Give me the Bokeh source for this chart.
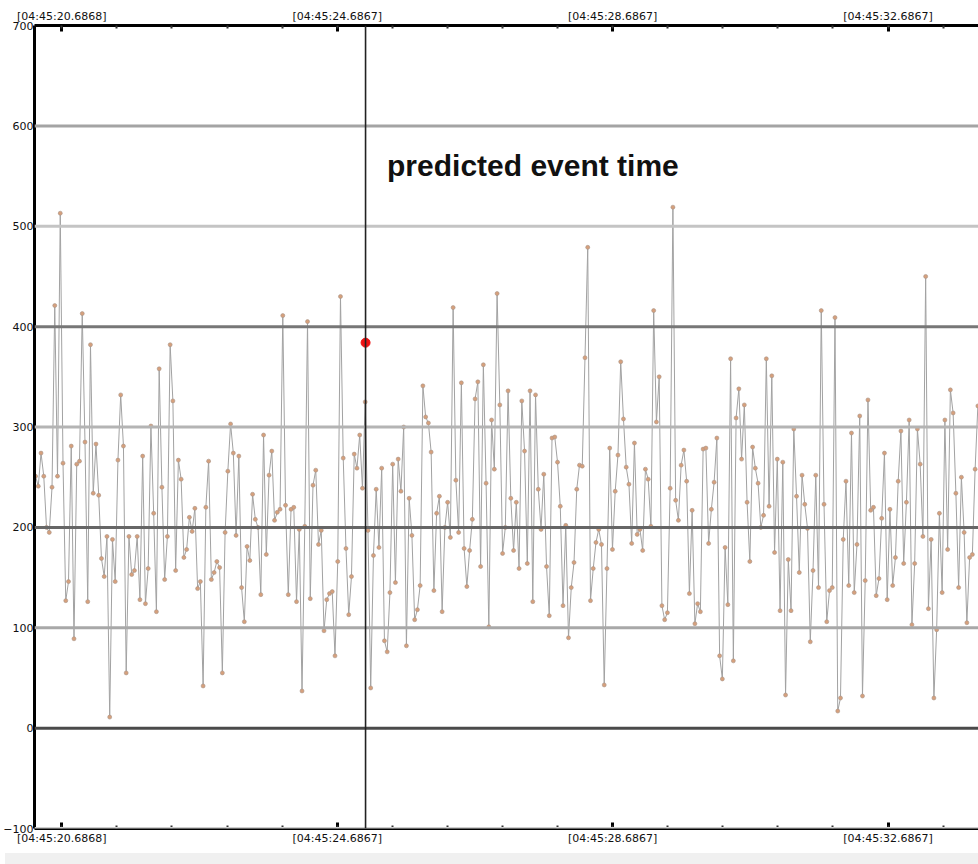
import numpy as np
from bokeh.plotting import figure
from bokeh.models import Range1d, LinearAxis, FixedTicker, Span, Label, Div
from bokeh.layouts import column
from bokeh.embed import file_html
from bokeh.resources import INLINE

# ---- data ----
t_start = 20.305      # seconds after 04:45:00 of the first sample
t_step = 0.0399       # sampling interval in seconds

values = [
    251, 241, 274, 251, 200, 195, 240, 421, 251, 513,
    264, 127, 146, 281, 89, 263, 266, 413, 285, 126,
    382, 234, 283, 232, 169, 151, 191, 11, 188, 146,
    267, 332, 281, 55, 191, 153, 157, 191, 128, 271,
    124, 159, 301, 214, 116, 358, 240, 148, 191, 382,
    326, 157, 267, 248, 170, 178, 210, 196, 219, 139,
    146, 42, 220, 266, 148, 155, 166, 160, 55, 195,
    256, 303, 274, 192, 271, 140, 106, 181, 167, 233,
    208, 200, 133, 292, 173, 252, 276, 207, 215, 218,
    411, 222, 133, 218, 220, 126, 198, 37, 201, 405,
    129, 242, 257, 183, 197, 97, 128, 134, 136, 72,
    166, 430, 269, 179, 113, 151, 273,
    259, 292, 239, 325, 197, 40, 172, 238, 180, 259,
    87, 76, 135, 263, 145, 268, 236, 300, 82, 229,
    192, 108, 118, 142, 341, 310, 304, 275, 137, 214,
    231, 116, 200, 225, 190, 419, 247, 195, 344, 179,
    141, 177, 208, 328, 345, 161, 362, 244, 101, 307,
    258, 433, 322, 174, 200, 336, 229,
    177, 225, 159, 326, 276, 164, 336, 126, 332, 238,
    198, 253, 161, 112, 289, 290, 265, 221, 122, 202,
    90, 140, 165, 238, 262, 261, 369, 479, 127, 159,
    185, 198, 183, 43, 159, 279, 178, 236, 272, 365,
    308, 260, 243, 184, 284, 193, 198, 177, 258, 248,
    201, 416, 305, 350, 122, 108, 115,
    239, 519, 227, 207, 262, 277, 246, 134, 217, 104,
    124, 116, 278, 279, 184, 218, 245, 289, 72, 49,
    180, 123, 368, 67, 309, 338, 268, 322, 225, 166,
    280, 259, 244, 200, 212, 368, 221, 351, 175, 268,
    117, 265, 33, 168, 117, 298, 231, 155, 252, 223,
    199, 86, 157, 252, 140, 416, 223,
    106, 137, 140, 409, 17, 30, 188, 246, 142, 294,
    135, 183, 311, 32, 147, 327, 217, 220, 132, 149,
    209, 274, 128, 218, 142, 170, 246, 296, 164, 225,
    307, 103, 164, 298, 263, 191, 450, 119, 188, 30,
    98, 214, 135, 307, 178, 337, 314, 234, 140, 250,
    195, 105, 170, 173, 258, 321,
]
times = [t_start + i * t_step for i in range(len(values))]

event_time = 25.098
event_value = 384
event_text = "predicted event time"

x_tick_values = [20.6868, 24.6867, 28.6867, 32.6867]
x_tick_labels = ["[04:45:20.6868]", "[04:45:24.6867]", "[04:45:28.6867]", "[04:45:32.6867]"]
x_minor_step = 0.8

y_tick_values = [-100, 0, 100, 200, 300, 400, 500, 600, 700]
grid_levels = [-100, 0, 100, 200, 300, 400, 500, 600]
grid_colors = ["#cfcfcf", "#4a4a4a", "#a8a8a8", "#666666", "#b4b4b4", "#777777", "#c4c4c4", "#a4a4a4"]

# ---- figure ----
p = figure(width=978, height=848,
           x_range=Range1d(20.290, 34.0), y_range=Range1d(-100, 700),
           output_backend="svg", toolbar_location=None,
           min_border_left=28, min_border_right=0,
           min_border_top=25, min_border_bottom=20)
p.outline_line_color = None
p.grid.visible = False
p.background_fill_color = "white"
p.border_fill_color = "white"

minor = list(np.arange(x_tick_values[0] - 0.8, 34.0, x_minor_step))
xt = FixedTicker(ticks=x_tick_values, minor_ticks=minor)
overrides = {v: s for v, s in zip(x_tick_values, x_tick_labels)}

def style_x(ax):
    ax.ticker = xt
    ax.major_label_overrides = overrides
    ax.axis_line_width = 3
    ax.axis_line_color = "black"
    ax.major_tick_line_width = 3
    ax.major_tick_line_color = "black"
    ax.major_tick_in = 6
    ax.major_tick_out = 0
    ax.minor_tick_line_width = 2
    ax.minor_tick_line_color = "#333333"
    ax.minor_tick_in = 3
    ax.minor_tick_out = 0
    ax.major_label_text_font = "DejaVu Sans"
    ax.major_label_text_font_size = "11px"
    ax.major_label_text_color = "#111111"
    ax.major_label_standoff = 3

style_x(p.xaxis[0])
top = LinearAxis()
style_x(top)
p.add_layout(top, "above")

ya = p.yaxis[0]
ya.ticker = FixedTicker(ticks=y_tick_values)
ya.axis_line_width = 3
ya.axis_line_color = "black"
ya.major_tick_line_color = None
ya.minor_tick_line_color = None
ya.major_tick_out = 0
ya.major_tick_in = 0
ya.major_label_text_font = "DejaVu Sans"
ya.major_label_text_font_size = "11px"
ya.major_label_text_color = "#111111"
ya.major_label_standoff = 1

for lvl, col in zip(grid_levels, grid_colors):
    p.add_layout(Span(location=lvl, dimension="width", line_color=col, line_width=3))

p.line(times, values, line_color="#a2a2a2", line_width=1)
p.scatter(times, values, size=4, fill_color="#d6a07c", line_color="#a89488", line_width=0.6)

p.add_layout(Span(location=event_time, dimension="height", line_color="#222222", line_width=1.6))
p.scatter([event_time], [event_value], size=9, fill_color="#ee1111", line_color="#ee1111")

p.add_layout(Label(x=25.41, y=561, text=event_text, text_font="Liberation Sans",
                   text_font_style="bold", text_font_size="30px", text_baseline="middle",
                   text_color="#111111"))

band = Div(width=978, height=16, styles={"background-color": "#f0f0f0"})
layout = column(p, band, spacing=0)

open("out.html", "w").write(file_html(layout, INLINE))
